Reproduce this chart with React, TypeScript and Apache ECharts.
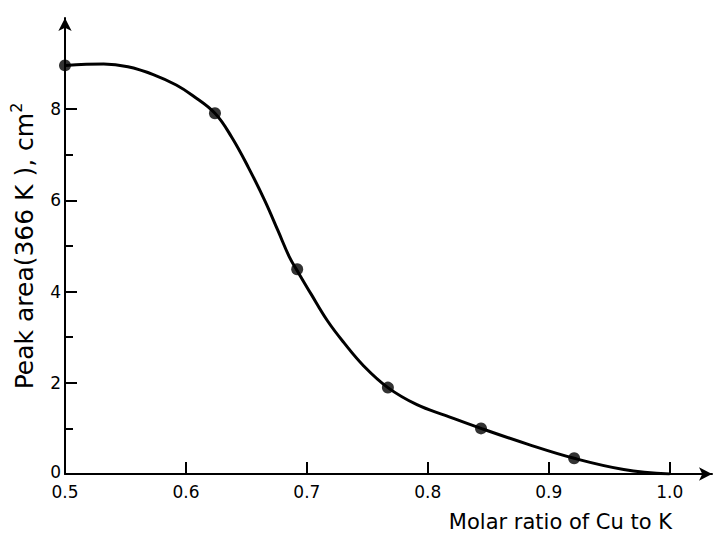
import React, { useEffect, useRef } from "react";
import * as echarts from "echarts";

// Measured data points (molar ratio Cu/K, peak area cm^2)
const pointX = [0.5, 0.624, 0.692, 0.767, 0.844, 0.921];
const pointY = [8.96, 7.91, 4.49, 1.895, 1.0, 0.345];

// Fitted curve
const curveX = [0.5, 0.532, 0.552, 0.573, 0.592, 0.6055, 0.624, 0.638, 0.6517, 0.6653, 0.6762, 0.6857, 0.692, 0.7034, 0.717, 0.7306, 0.747, 0.767, 0.791, 0.815, 0.844, 0.883, 0.921, 0.962, 1.0];
const curveY = [8.96, 8.99, 8.93, 8.76, 8.53, 8.3, 7.91, 7.38, 6.72, 5.99, 5.33, 4.75, 4.46, 3.95, 3.36, 2.88, 2.37, 1.895, 1.52, 1.28, 1.0, 0.65, 0.345, 0.1, 0.0];

// Axis ticks
const xTickLabels = [0.5, 0.6, 0.7, 0.8, 0.9, 1.0];
const xTickMarks = [0.6, 0.7, 0.8, 0.9, 1.0];
const yMajorLabels = [0, 2, 4, 6, 8];
const yMajorTicks = [2, 4, 6, 8];
const yMinorTicks = [1, 3, 5, 7];

const FONT = "DejaVu Sans";

export default function App() {
  const ref = useRef<HTMLDivElement>(null);

  useEffect(() => {
    if (!ref.current) return;
    const chart = echarts.init(ref.current, null, { renderer: "svg" });
    const axisLine = {
      show: true,
      onZero: false,
      lineStyle: { color: "#000", width: 2 },
      symbol: ["none", "arrow"],
      symbolSize: [10, 13],
    };
    chart.setOption({
      animation: false,
      backgroundColor: "#fff",
      grid: { left: 57.5, right: 7, top: 18, bottom: 59, containLabel: false },
      xAxis: {
        type: "value",
        min: 0.5,
        max: 1.035,
        interval: 0.1,
        axisLine,
        splitLine: { show: false },
        axisTick: {
          show: true,
          inside: true,
          length: 12,
          customValues: xTickMarks,
          lineStyle: { color: "#000", width: 2 },
        },
        axisLabel: {
          show: true,
          customValues: xTickLabels,
          margin: 11,
          color: "#000",
          fontFamily: FONT,
          fontSize: 17,
          lineHeight: 14,
          formatter: (v: number) => v.toFixed(1),
        },
      },
      yAxis: [
        {
          type: "value",
          min: 0,
          max: 10,
          interval: 2,
          axisLine,
          splitLine: { show: false },
          axisTick: {
            show: true,
            inside: true,
            length: 12,
            customValues: yMajorTicks,
            lineStyle: { color: "#000", width: 2 },
          },
          axisLabel: {
            show: true,
            customValues: yMajorLabels,
            margin: 4,
            color: "#000",
            fontFamily: FONT,
            fontSize: 17,
            lineHeight: 14,
            formatter: (v: number) => (v === 0 ? "{z|0}" : String(v)),
            rich: {
              z: { fontFamily: FONT, fontSize: 17, color: "#000", lineHeight: 12, padding: [0, 0, 4, 0] },
            },
          },
          name: "{m|Peak area(366 K ), cm}{s|2}",
          nameLocation: "middle",
          nameRotate: 90,
          nameGap: 25,
          nameTextStyle: {
            color: "#000",
            fontFamily: FONT,
            fontSize: 25,
            rich: {
              m: { fontFamily: FONT, fontSize: 25, color: "#000", lineHeight: 32 },
              s: { fontFamily: FONT, fontSize: 16, color: "#000", verticalAlign: "top", lineHeight: 17 },
            },
          },
        },
        {
          type: "value",
          min: 0,
          max: 10,
          position: "left",
          offset: 0,
          axisLine: { show: false },
          splitLine: { show: false },
          axisLabel: { show: false },
          axisTick: {
            show: true,
            inside: true,
            length: 8,
            customValues: yMinorTicks,
            lineStyle: { color: "#000", width: 2 },
          },
        },
      ],
      graphic: [
        {
          type: "text",
          x: 672,
          y: 522,
          style: {
            text: "Molar ratio of Cu to K",
            font: `21px "${FONT}"`,
            fill: "#000",
            textAlign: "right",
            textVerticalAlign: "middle",
          },
        },
      ],
      series: [
        {
          type: "line",
          data: curveX.map((x, i) => [x, curveY[i]]),
          smooth: 0.4,
          showSymbol: false,
          symbol: "none",
          lineStyle: { color: "#000", width: 3 },
          z: 2,
        },
        {
          type: "scatter",
          data: pointX.map((x, i) => [x, pointY[i]]),
          symbol: "circle",
          symbolSize: 12,
          itemStyle: { color: "#000" },
          z: 3,
        },
      ],
    });
    return () => chart.dispose();
  }, []);

  return (
    <div
      ref={ref}
      style={{ position: "fixed", left: 0, top: 0, width: 719, height: 533, background: "#fff" }}
    />
  );
}
